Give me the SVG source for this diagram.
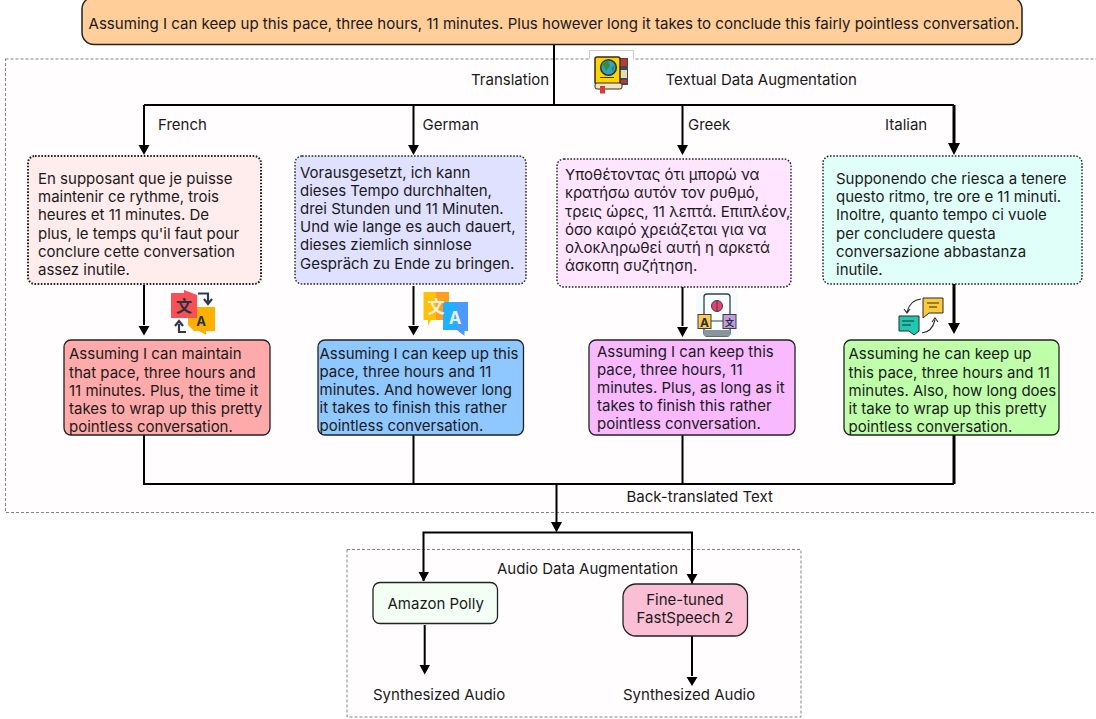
<svg xmlns="http://www.w3.org/2000/svg" width="1096" height="719" viewBox="0 0 1096 719">
<style>
text{font-family:"Inter","Liberation Sans",sans-serif;font-size:15px;fill:#1a1a1a}
.zone{fill:#fffdfe;stroke:#666;stroke-width:.8;stroke-dasharray:3 2}
.src{stroke:#222;stroke-width:1.4;stroke-dasharray:1.6 1.6}
.back{stroke:#222;stroke-width:1.3}
.wire{fill:none;stroke:#000;stroke-width:2}
.head{fill:#000}
.ic{font-weight:700;font-size:14px;text-anchor:middle;fill:#2f3b4a}
</style>
<rect x="-1" y="-1" width="1098" height="721" fill="#fff"/>
<g id="zones">
<rect id="text-zone" class="zone" x="5.5" y="59" width="1095" height="453.5"/>
<rect id="audio-zone" class="zone" x="347" y="549.5" width="454" height="167.5"/>
</g>
<g id="connectors">
<path class="wire" d="M554 44V105M144 105H954M144 105V145M413.5 105V145M682.5 105V145"/>
<path class="wire" style="stroke-width:3" d="M954 105V145"/>
<path class="head" d="M138.500 145H149.500L144 155ZM408 145H419L413.500 155ZM677 145H688L682.500 155ZM948 143H960L954 155Z"/>
<path class="wire" d="M144 285V325M413.500 286V325M682.500 287V326"/>
<path class="wire" style="stroke-width:3" d="M954 284V323"/>
<path class="head" d="M138.500 326H149.500L144 335.500ZM408 326H419L413.500 335.500ZM677 327H688L682.500 337ZM948 323H960L954 334Z"/>
<path class="wire" d="M144 435V484H954M413.500 435V484M682.500 435V484M556.500 484V523"/>
<path class="wire" style="stroke-width:3" d="M954 435V484"/>
<path class="head" d="M551 522H562L556.500 532.500Z"/>
<path class="wire" d="M423.500 581V532.500H692V584M424.700 625V665M692 636V676"/>
<path class="head" d="M418.500 572H429L423.700 581.500ZM686.500 574H697.500L692 583.500ZM419.500 665H430L424.700 674.500ZM686.500 677H697.500L692 686Z"/>
</g>
<g id="source"><rect x="82" y="-3" width="940" height="47.500" rx="12" fill="#ffce99" stroke="#222" stroke-width="1.500"/>
<text x="88.500" y="29" style="font-size:15.07px">Assuming I can keep up this pace, three hours, 11 minutes. Plus however long it takes to conclude this fairly pointless conversation.</text></g>
<g id="labels">
<text x="471" y="85">Translation</text><text x="665.500" y="85">Textual Data Augmentation</text>
<text x="158" y="130">French</text><text x="422.500" y="130">German</text><text x="688" y="130">Greek</text><text x="885" y="130">Italian</text>
<text x="626.500" y="502">Back-translated Text</text><text x="497" y="574">Audio Data Augmentation</text>
<text x="373" y="700">Synthesized Audio</text><text x="623" y="700">Synthesized Audio</text>
</g>
<g id="french"><rect class="src" x="28" y="156" width="233" height="128" rx="7" fill="#ffecec" style="stroke-width:2"/>
<text><tspan x="38" y="184">En supposant que je puisse</tspan><tspan x="38" y="202">maintenir ce rythme, trois</tspan><tspan x="38" y="220">heures et 11 minutes. De</tspan><tspan x="38" y="239">plus, le temps qu'il faut pour</tspan><tspan x="38" y="257">conclure cette conversation</tspan><tspan x="38" y="275">assez inutile.</tspan></text></g>
<g id="german"><rect class="src" x="295" y="156" width="231" height="128" rx="7" fill="#e0e0ff"/>
<text><tspan x="300" y="177.500">Vorausgesetzt, ich kann</tspan><tspan x="300" y="196">dieses Tempo durchhalten,</tspan><tspan x="300" y="214">drei Stunden und 11 Minuten.</tspan><tspan x="300" y="232">Und wie lange es auch dauert,</tspan><tspan x="300" y="250">dieses ziemlich sinnlose</tspan><tspan x="300" y="269">Gespräch zu Ende zu bringen.</tspan></text></g>
<g id="greek"><rect class="src" x="557" y="159" width="234" height="128" rx="7" fill="#ffe5ff"/>
<text><tspan x="565" y="180">Υποθέτοντας ότι μπορώ να</tspan><tspan x="565" y="198">κρατήσω αυτόν τον ρυθμό,</tspan><tspan x="565" y="217">τρεις ώρες, 11 λεπτά. Επιπλέον,</tspan><tspan x="565" y="235">όσο καιρό χρειάζεται για να</tspan><tspan x="565" y="253">ολοκληρωθεί αυτή η αρκετά</tspan><tspan x="565" y="271">άσκοπη συζήτηση.</tspan></text></g>
<g id="italian"><rect class="src" x="823" y="156" width="259" height="128" rx="7" fill="#e0fff9"/>
<text><tspan x="836" y="184">Supponendo che riesca a tenere</tspan><tspan x="836" y="202">questo ritmo, tre ore e 11 minuti.</tspan><tspan x="836" y="220">Inoltre, quanto tempo ci vuole</tspan><tspan x="836" y="239">per concludere questa</tspan><tspan x="836" y="257">conversazione abbastanza</tspan><tspan x="836" y="275">inutile.</tspan></text></g>
<g id="back-french"><rect class="back" x="64" y="340" width="206" height="95" rx="7" fill="#ffaaaa"/>
<text><tspan x="69" y="359">Assuming I can maintain</tspan><tspan x="69" y="377.500">that pace, three hours and</tspan><tspan x="69" y="396">11 minutes. Plus, the time it</tspan><tspan x="69" y="414">takes to wrap up this pretty</tspan><tspan x="69" y="432">pointless conversation.</tspan></text></g>
<g id="back-german"><rect class="back" x="318" y="340" width="205.500" height="95" rx="7" fill="#8fc7ff"/>
<text><tspan x="319.500" y="358.500">Assuming I can keep up this</tspan><tspan x="319.500" y="376.500">pace, three hours and 11</tspan><tspan x="319.500" y="395">minutes. And however long</tspan><tspan x="319.500" y="413">it takes to finish this rather</tspan><tspan x="319.500" y="431">pointless conversation.</tspan></text></g>
<g id="back-greek"><rect class="back" x="589" y="340" width="206" height="95" rx="7" fill="#f9b9ff"/>
<text><tspan x="597" y="356.500">Assuming I can keep this</tspan><tspan x="597" y="374.500">pace, three hours, 11</tspan><tspan x="597" y="393">minutes. Plus, as long as it</tspan><tspan x="597" y="411">takes to finish this rather</tspan><tspan x="597" y="429">pointless conversation.</tspan></text></g>
<g id="back-italian"><rect class="back" x="844" y="340" width="215" height="95" rx="7" fill="#c0ffaa"/>
<text><tspan x="848.500" y="359">Assuming he can keep up</tspan><tspan x="848.500" y="377.500">this pace, three hours and 11</tspan><tspan x="848.500" y="396">minutes. Also, how long does</tspan><tspan x="848.500" y="414">it take to wrap up this pretty</tspan><tspan x="848.500" y="432">pointless conversation.</tspan></text></g>
<g id="polly"><rect class="back" x="373" y="582.500" width="124.500" height="41" rx="7" fill="#f3fff5"/><text x="387.500" y="608.500">Amazon Polly</text></g>
<g id="fastspeech"><rect class="back" x="623" y="584" width="124.500" height="52" rx="13" fill="#fbbfd5"/><text text-anchor="middle"><tspan x="685" y="605">Fine-tuned</tspan><tspan x="685" y="623">FastSpeech 2</tspan></text></g>
<g id="icon-book">
<path d="M589.500 59V50.500H633.500V59" fill="#fff" stroke="#ccc"/><rect x="590" y="58" width="43" height="34" fill="#fff"/>
<rect x="616" y="58" width="12" height="27" fill="#3d4a57"/><rect x="620" y="59" width="7" height="7" fill="#c0392b"/><rect x="620" y="70" width="7" height="8" fill="#e8d9b5"/><rect x="620" y="80" width="7" height="3" fill="#c0392b"/>
<rect x="595" y="57" width="25" height="27" rx="2" fill="#ffd500" stroke="#3a2a1a" stroke-width="1.500"/>
<circle cx="608.500" cy="67.500" r="7.800" fill="#2f9fd0" stroke="#2b3a20" stroke-width="1.600"/><path d="M602 63L608 60.500L610 66L606 71ZM611 68L615 65L613 72Z" fill="#3d8b37"/>
<path d="M600 77.500H614" stroke="#3a2a1a"/>
<rect x="595" y="83" width="27" height="6" rx="2" fill="#f1e4c4" stroke="#3a2a1a"/><rect x="600" y="86" width="5" height="7.500" fill="#d63b3b"/>
</g>
<g id="icon-french">
<path d="M188 307H215V331H206V335L199 331H194L188 325Z" fill="#ffb000"/>
<path d="M171 293H184V290L197 295V318H171Z" fill="#f94f55"/>
<text class="ic" x="184" y="312" style="fill:#263340;font-size:16px;font-family:'Noto Sans CJK SC',sans-serif">文</text><text class="ic" x="201" y="326" style="fill:#263340;font-size:13px">A</text>
<path d="M198 293.500H208V302M204 299L208 304L212 299M186 332H179V324M175 326L179 321L183 326" fill="none" stroke="#2f3b4a" stroke-width="2.200"/>
</g>
<g id="icon-german">
<path d="M423.500 292H449V320H431L428 326V320H423.500Z" fill="#ffc107"/><path d="M436 292H449V320H436Z" fill="#ff9f22"/>
<path d="M443 302H468V331H464.500V336L457 330H443Z" fill="#4a9aff"/><path d="M443 302H456V330H443Z" fill="#1fb0ff"/>
<text class="ic" x="436" y="313" style="fill:#f6f0dd;font-size:17px;font-family:'Noto Sans CJK SC',sans-serif">文</text><text class="ic" x="455" y="324" style="fill:#e6f1ff;font-size:17px">A</text>
</g>
<g id="icon-greek">
<rect x="696" y="291" width="42" height="46" fill="#f4fbfc"/>
<rect x="704" y="294" width="26" height="42" rx="3" fill="#f7fcfd" stroke="#36404a" stroke-width="1.300"/><rect x="704" y="330" width="26" height="6" fill="#8a949c"/>
<circle cx="717" cy="306" r="5.500" fill="#e9406f" stroke="#36404a"/><path d="M717 301V311" stroke="#36404a"/>
<path d="M711 321H724" stroke="#36404a"/>
<rect x="698" y="314.500" width="13" height="14" fill="#ffc94d" stroke="#36404a"/><rect x="723" y="314.500" width="13" height="14" fill="#c59be0" stroke="#36404a"/>
<text class="ic" x="704.500" y="326.500" style="font-size:12px;fill:#22303a">A</text><text class="ic" x="729.500" y="325.500" style="font-size:9px;fill:#22303a;font-family:'Noto Sans CJK SC',sans-serif">文</text>
</g>
<g id="icon-italian">
<path d="M923 298H943V313H929L923 318Z" fill="#ffc93c" stroke="#2b2b2b"/><path d="M927 303H939M929 307H937" stroke="#2b2b2b"/>
<path d="M899 316H919V331L914 335L909 331H899Z" fill="#1ec9b0" stroke="#2b2b2b"/><path d="M902 321H914M902 325H911" stroke="#2b2b2b"/>
<path d="M921 299Q910 300 907 312M904 309L907 313L910 309M922 333Q932 332 935 320M932 322L935 318L938 322" fill="none" stroke="#2b2b2b" stroke-width="1.100"/>
</g>
</svg>
